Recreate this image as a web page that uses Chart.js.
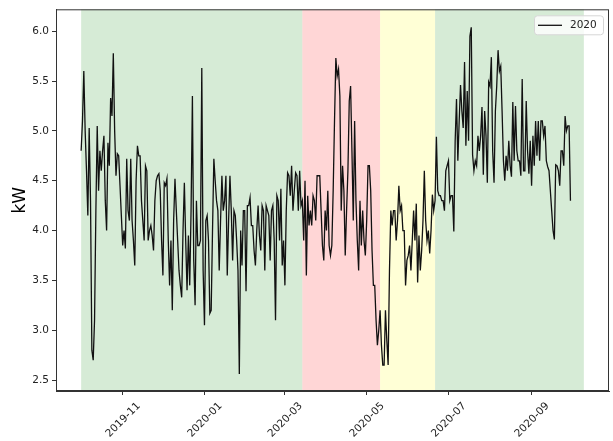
<!DOCTYPE html>
<html lang="en">
<head>
    <meta charset="UTF-8">
    <title>kW 2020</title>
    <style>
        body { margin: 0; padding: 0; background: #fff; }
        #chart { display: block; }
    </style>
</head>
<body>
    <canvas id="chart" width="613" height="441"></canvas>

    <script src="https://cdn.jsdelivr.net/npm/chart.js"></script>
    <script>
        // Série diária, começa em 2019-10-01
        const startDate = [2019, 10, 1];
        const seriesLabel = '2020';
        const kw2020 = [
            4.80, 5.10, 5.60, 5.00, 4.60, 4.15, 5.03, 4.30, 2.80, 2.70,
            3.10, 4.20, 5.05, 4.40, 4.80, 4.60, 4.80, 4.95, 4.30, 4.00,
            4.88, 4.65, 5.33, 5.15, 5.78, 5.00, 4.55, 4.77, 4.75, 4.45,
            4.15, 3.85, 4.00, 3.82, 4.72, 4.20, 4.10, 4.72, 4.10, 3.90,
            3.65, 4.50, 4.85, 4.75, 4.75, 4.30, 4.10, 3.90, 4.65, 4.60,
            3.90, 4.00, 4.05, 3.95, 3.80, 4.30, 4.50, 4.55, 4.57, 4.40,
            3.90, 3.55, 4.48, 4.45, 4.52, 3.90, 3.45, 3.90, 3.20, 4.10,
            4.52, 4.20, 3.90, 3.60, 3.45, 3.33, 4.00, 4.48, 3.90, 3.40,
            3.95, 3.45, 4.20, 5.35, 3.70, 3.25, 4.30, 3.85, 3.85, 3.90,
            5.63, 3.60, 3.05, 4.10, 4.15, 3.90, 3.17, 3.20, 4.00, 4.72,
            4.50, 4.30, 4.20, 3.60, 4.10, 4.55, 4.20, 4.30, 4.55, 3.55,
            4.10, 4.55, 4.20, 3.70, 4.20, 4.15, 3.90, 3.60, 2.56, 4.00,
            3.65, 4.20, 4.20, 3.39, 4.25, 4.25, 4.33, 4.05, 4.05, 3.80,
            3.65, 4.00, 4.25, 3.95, 3.80, 4.25, 4.20, 3.60, 4.25, 4.20,
            4.15, 3.70, 4.20, 4.25, 3.90, 3.10, 4.35, 4.30, 3.90, 4.42,
            3.65, 3.90, 3.45, 4.20, 4.58, 4.55, 4.35, 4.65, 4.20, 4.40,
            4.58, 4.55, 4.20, 4.60, 4.25, 4.30, 3.90, 4.50, 3.55, 4.35,
            4.05, 4.20, 4.05, 4.35, 4.30, 4.10, 4.55, 4.55, 4.55, 4.20,
            3.85, 3.70, 4.20, 4.00, 4.40, 3.85, 3.75, 3.85, 4.40, 5.10,
            5.73, 5.55, 5.62, 5.35, 4.20, 4.65, 4.40, 3.75, 4.20, 4.60,
            5.30, 5.45, 4.80, 4.10, 5.10, 4.30, 3.90, 3.60, 4.30, 3.85,
            4.20, 3.90, 3.75, 4.10, 4.65, 4.65, 4.40, 3.80, 3.45, 3.45,
            3.10, 2.85, 3.00, 3.20, 2.85, 2.65, 2.65, 3.20, 2.90, 2.65,
            3.60, 4.20, 4.05, 4.20, 4.20, 3.90, 4.10, 4.45, 4.20, 4.25,
            4.00, 4.00, 3.45, 3.70, 3.75, 3.85, 3.60, 3.90, 4.20, 3.90,
            4.27, 3.48, 3.95, 3.60, 3.80, 4.10, 4.60, 4.10, 3.90, 4.00,
            3.77, 4.00, 4.36, 4.20, 4.30, 4.94, 4.40, 4.35, 4.35, 4.30,
            4.30, 4.20, 4.60, 4.65, 4.70, 4.30, 4.35, 4.35, 3.99, 4.90,
            5.32, 4.70, 5.10, 5.46, 5.20, 5.03, 5.69, 4.85, 5.40, 4.90,
            5.95, 6.04, 4.76, 4.60, 4.70, 4.65, 4.95, 4.80, 4.95, 5.24,
            4.56, 5.20, 4.95, 4.48, 5.49, 5.45, 5.74, 4.79, 4.48, 5.20,
            5.45, 5.81, 5.60, 5.65, 5.20, 4.70, 4.50, 4.75, 4.60, 4.90,
            4.65, 4.54, 5.29, 4.70, 5.25, 4.80, 4.70, 4.70, 4.55, 5.52,
            4.60, 4.60, 5.30, 4.80, 4.57, 4.90, 4.45, 4.95, 4.65, 5.10,
            4.75, 5.10, 4.70, 5.10, 5.10, 4.95, 5.05, 4.70, 4.64, 4.60,
            4.40, 4.20, 4.00, 3.91, 4.66, 4.65, 4.60, 4.45, 4.80, 4.80,
            4.65, 5.15, 5.00, 5.05, 5.05, 4.30
        ];

        // Faixas de fundo (início, fim, cor)
        const spanStarts = ['2019-10-01', '2020-03-14', '2020-05-11', '2020-06-21'];
        const spanEnds   = ['2020-03-14', '2020-05-11', '2020-06-21', '2020-10-10'];
        const spanColors = ['rgba(0,128,0,0.16)', 'rgba(255,0,0,0.16)', 'rgba(255,255,0,0.16)', 'rgba(0,128,0,0.16)'];

        const xTickLabels = ['2019-11', '2020-01', '2020-03', '2020-05', '2020-07', '2020-09'];
        const yTicks = [2.5, 3.0, 3.5, 4.0, 4.5, 5.0, 5.5, 6.0];

        // dias desde startDate
        function dayOf(str) {
            const p = str.split('-').map(Number);
            const d = p[2] || 1;
            return (Date.UTC(p[0], p[1] - 1, d) - Date.UTC(startDate[0], startDate[1] - 1, startDate[2])) / 86400000;
        }

        const points = kw2020.map((v, i) => ({ x: i, y: v }));
        const spanFirst = dayOf(spanStarts[0]);
        const spanLast = dayOf(spanEnds[spanEnds.length - 1]);
        const margin = (spanLast - spanFirst) * 0.05;

        const font = "'DejaVu Sans', sans-serif";

        const spansPlugin = {
            id: 'spans',
            beforeDatasetsDraw(chart) {
                const { ctx, chartArea, scales } = chart;
                ctx.save();
                for (let i = 0; i < spanStarts.length; i++) {
                    const x0 = scales.x.getPixelForValue(dayOf(spanStarts[i]));
                    const x1 = scales.x.getPixelForValue(dayOf(spanEnds[i]));
                    ctx.fillStyle = spanColors[i];
                    ctx.fillRect(x0, chartArea.top, x1 - x0, chartArea.bottom - chartArea.top);
                }
                ctx.restore();
            }
        };

        const framePlugin = {
            id: 'frame',
            afterDraw(chart) {
                const { ctx, chartArea } = chart;
                ctx.save();
                ctx.strokeStyle = '#333';
                ctx.lineWidth = 1;
                ctx.strokeRect(chartArea.left + 0.5, chartArea.top + 0.5,
                    chartArea.right - chartArea.left - 1, chartArea.bottom - chartArea.top - 1);

                // legenda no canto superior direito
                const w = 69, h = 19;
                const bx = chartArea.right - 6 - w, by = chartArea.top + 6;
                ctx.beginPath();
                ctx.roundRect(bx + 0.5, by + 0.5, w, h, 3);
                ctx.fillStyle = 'rgba(255,255,255,0.8)';
                ctx.fill();
                ctx.strokeStyle = '#d6d6d6';
                ctx.stroke();
                const ly = by + h / 2 + 0.5;
                ctx.beginPath();
                ctx.moveTo(bx + 4, ly);
                ctx.lineTo(bx + 28, ly);
                ctx.strokeStyle = '#111';
                ctx.lineWidth = 1.3;
                ctx.stroke();
                ctx.fillStyle = '#222';
                ctx.font = '10.5px ' + font;
                ctx.textBaseline = 'middle';
                ctx.fillText(chart.data.datasets[0].label, bx + 36, ly);
                ctx.restore();
            }
        };

        new Chart(document.getElementById('chart'), {
            type: 'line',
            data: {
                datasets: [{
                    label: seriesLabel,
                    data: points,
                    borderColor: '#111',
                    borderWidth: 1.3,
                    pointRadius: 0,
                    tension: 0,
                    fill: false
                }]
            },
            options: {
                responsive: false,
                animation: false,
                layout: { padding: { top: 7, right: 4, left: 0, bottom: 0 } },
                plugins: {
                    legend: { display: false },
                    tooltip: { enabled: false }
                },
                scales: {
                    x: {
                        type: 'linear',
                        min: spanFirst - margin,
                        max: spanLast + margin,
                        afterBuildTicks(scale) {
                            scale.ticks = xTickLabels.map(l => ({ value: dayOf(l) }));
                        },
                        afterFit(scale) { scale.height = 50; },
                        grid: { drawOnChartArea: false, drawTicks: true, tickLength: 4, color: '#333' },
                        border: { display: true, color: '#333', width: 1 },
                        ticks: {
                            autoSkip: false,
                            maxRotation: 45,
                            minRotation: 45,
                            labelOffset: 16,
                            padding: 5,
                            color: '#222',
                            font: { family: font, size: 10.5 },
                            callback(value) {
                                const i = xTickLabels.findIndex(l => dayOf(l) === value);
                                return i >= 0 ? xTickLabels[i] : '';
                            }
                        }
                    },
                    y: {
                        min: 2.39,
                        max: 6.22,
                        afterBuildTicks(scale) {
                            scale.ticks = yTicks.map(v => ({ value: v }));
                        },
                        afterFit(scale) { scale.width = 56; },
                        grid: { drawOnChartArea: false, drawTicks: true, tickLength: 4, color: '#333' },
                        border: { display: true, color: '#333', width: 1 },
                        ticks: {
                            padding: 3,
                            color: '#222',
                            font: { family: font, size: 10.5 },
                            callback: v => v.toFixed(1)
                        },
                        title: {
                            display: true,
                            text: 'kW',
                            color: '#000',
                            font: { family: font, size: 17 },
                            padding: { top: 10, bottom: 0 }
                        }
                    }
                }
            },
            plugins: [spansPlugin, framePlugin]
        });
    </script>
</body>
</html>
